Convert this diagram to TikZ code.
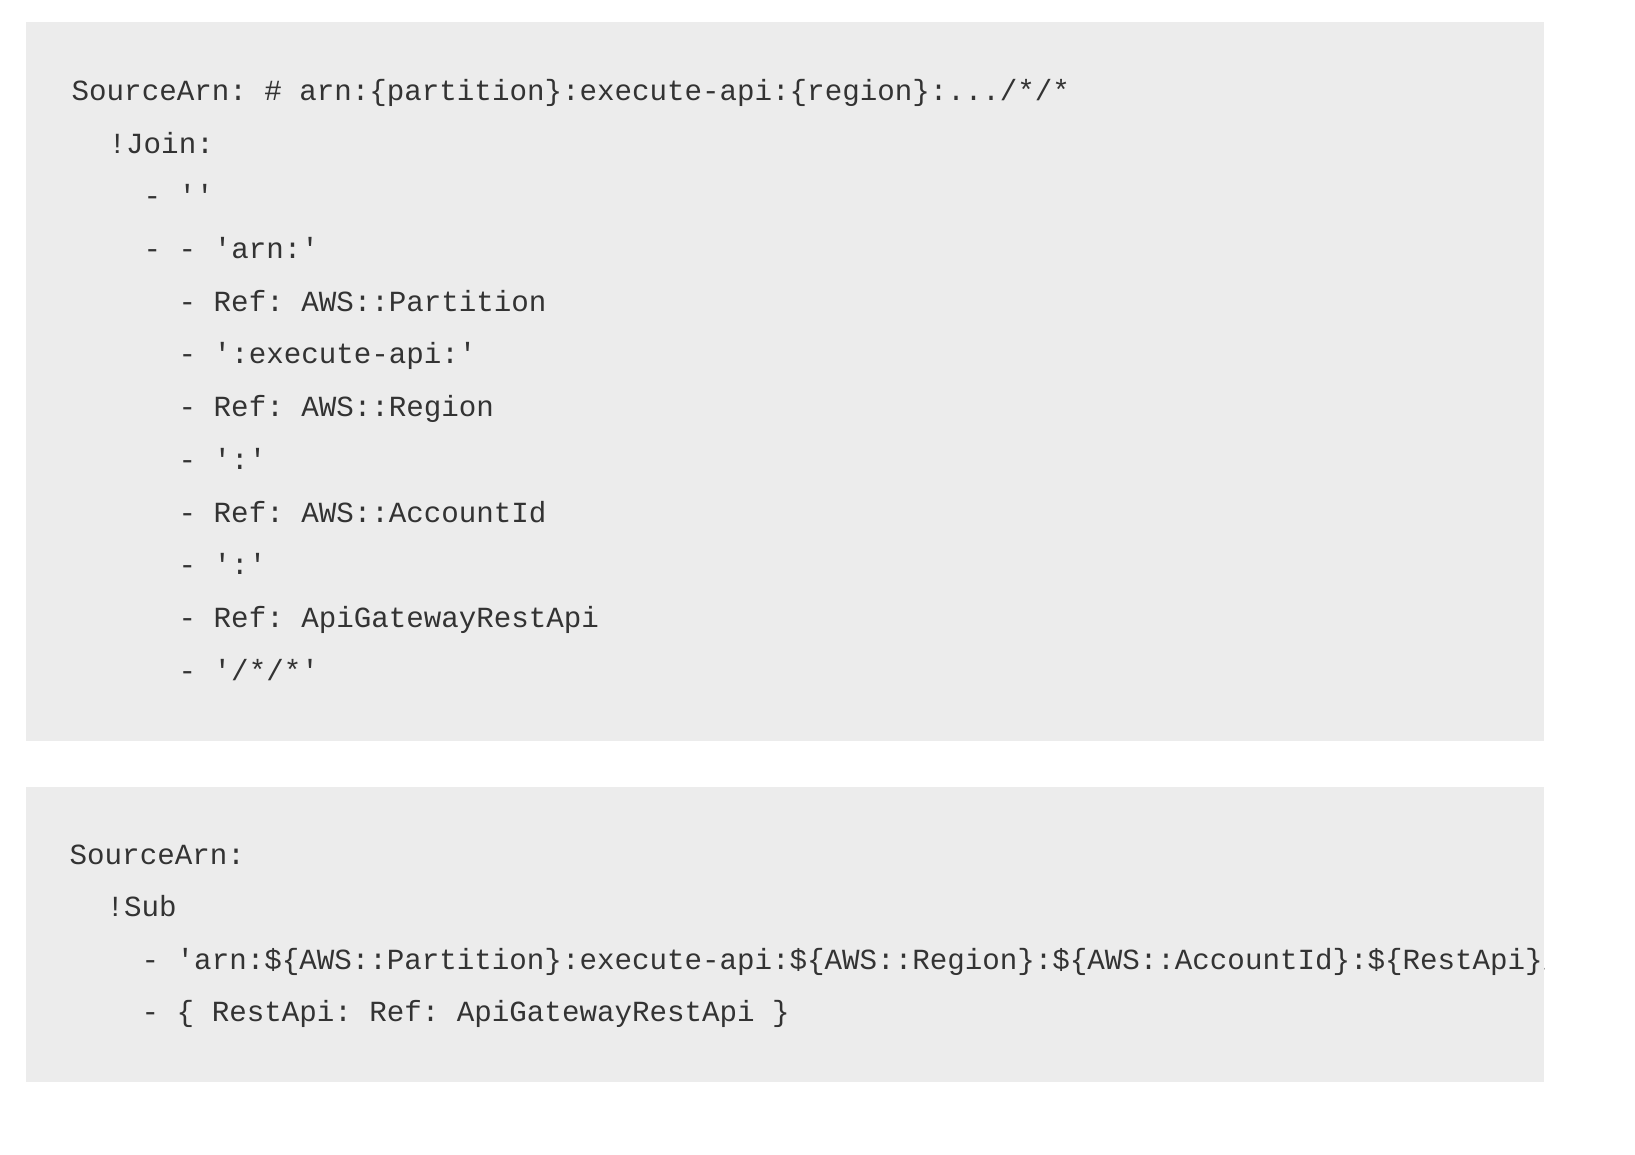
\documentclass[tikz,border=0pt]{standalone}
\usepackage{fontspec}
\setmonofont{Liberation Mono}
\definecolor{codebg}{HTML}{ECECEC}
\definecolor{codefg}{HTML}{333333}
\tikzset{
  codeline/.style={anchor=base west, inner sep=0pt, text=codefg,
    font=\ttfamily\fontsize{8.3pt}{10pt}\selectfont},
}

\begin{document}
\begin{tikzpicture}[x=0.01cm,y=-0.01cm]
    \useasboundingbox (0,0) rectangle (1635,1155);

    % first block
    \fill[codebg] (26,22) rectangle (1544,741);
    \node[codeline] (j1)  at (71,101)  {SourceArn: \# arn:\{partition\}:execute-api:\{region\}:.../*/*};
    \node[codeline] (j2)  at (108,154) {!Join:};
    \node[codeline] (j3)  at (143,206) {- {'}{'}};
    \node[codeline] (j4)  at (143,259) {- - 'arn:'};
    \node[codeline] (j5)  at (178,312) {- Ref: AWS::Partition};
    \node[codeline] (j6)  at (178,364) {- ':execute-api:'};
    \node[codeline] (j7)  at (178,417) {- Ref: AWS::Region};
    \node[codeline] (j8)  at (178,470) {- ':'};
    \node[codeline] (j9)  at (178,523) {- Ref: AWS::AccountId};
    \node[codeline] (j10) at (178,575) {- ':'};
    \node[codeline] (j11) at (178,628) {- Ref: ApiGatewayRestApi};
    \node[codeline] (j12) at (178,681) {- '/*/*'};

    % second block
    \fill[codebg] (26,787) rectangle (1544,1082);
    \node[codeline] (s1) at (69,865)  {SourceArn:};
    \node[codeline] (s2) at (106,917) {!Sub};
    \begin{scope}
      \clip (26,787) rectangle (1544,1082);
      \node[codeline] (s3) at (141,970) {- 'arn:\$\{AWS::Partition\}:execute-api:\$\{AWS::Region\}:\$\{AWS::AccountId\}:\$\{RestApi\}/*/*'};
    \end{scope}
    \node[codeline] (s4) at (141,1022) {- \{ RestApi: Ref: ApiGatewayRestApi \}};
\end{tikzpicture}
\end{document}
